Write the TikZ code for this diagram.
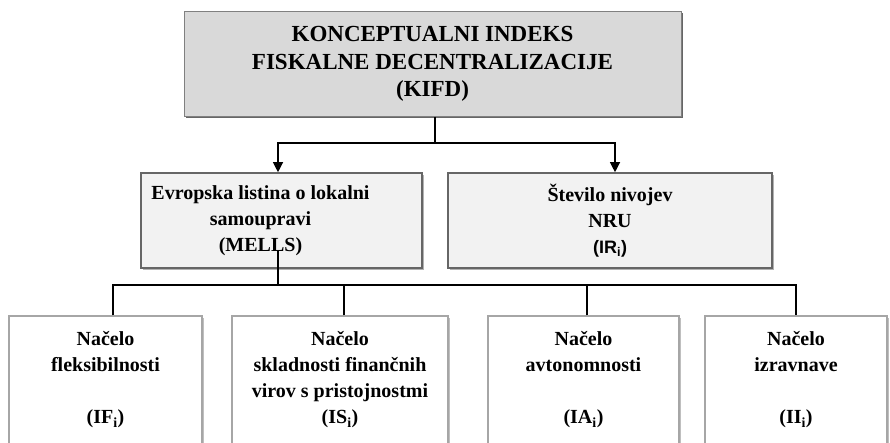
\documentclass[tikz,border=0pt]{standalone}
\usepackage{fontspec}
\setmainfont{Liberation Serif}
\newfontfamily\arialfont{Liberation Sans}
\usetikzlibrary{arrows.meta}
\usetikzlibrary{shadows}

\tikzset{
	glavni/.style={draw=black!50, fill=black!15, line width=1pt,
		drop shadow={shadow xshift=2pt,shadow yshift=-2pt,fill=black!60,opacity=1},
		align=center, font=\fontsize{23}{27.5}\selectfont\bfseries},
	srednji/.style={draw=black!60, fill=black!5, line width=1.6pt,
		drop shadow={shadow xshift=2pt,shadow yshift=-2pt,fill=black!30,opacity=1},
		minimum height=95pt, align=center, font=\fontsize{20}{26}\selectfont\bfseries},
	napis/.style={align=center, font=\fontsize{20}{26}\selectfont\bfseries},
	nacelo/.style={draw=black!35, fill=white, line width=1.4pt,
		drop shadow={shadow xshift=1.5pt,shadow yshift=-1.5pt,fill=black!25,opacity=1},
		minimum height=128pt, align=center, font=\fontsize{20}{26}\selectfont\bfseries},
	povezava/.style={line width=1.2pt, draw=black}
}

\begin{document}
\begin{tikzpicture}[x=1pt,y=-1pt,>/.tip={Triangle[width=10pt,length=10pt]}]
	\useasboundingbox (0,0) rectangle (890,443);
	\node (kifd) [glavni,minimum width=497pt,minimum height=105pt] at (432.5,64) {KONCEPTUALNI INDEKS\\FISKALNE DECENTRALIZACIJE\\(KIFD)};
	\node (mells) [srednji,minimum width=281pt] at (281.5,220.5) {};
	\node (mellsnapis) [napis] at ([xshift=-21pt]mells.center) {Evropska listina o lokalni\\samoupravi\\(MELLS)};
	\node (nru) [srednji,minimum width=324pt] at (610,220.5) {Število nivojev\\NRU\\{\arialfont\fontsize{18}{26}\selectfont(IR\textsubscript{i})}};
	\node (nf) [nacelo,minimum width=193pt] at (105.5,380) {Načelo\\fleksibilnosti\\[26pt](IF\textsubscript{i})};
	\node (nsk) [nacelo,minimum width=216pt] at (340,380) {Načelo\\skladnosti finančnih\\virov s pristojnostmi\\(IS\textsubscript{i})};
	\node (nav) [nacelo,minimum width=191pt] at (583.5,380) {Načelo\\avtonomnosti\\[26pt](IA\textsubscript{i})};
	\node (niz) [nacelo,minimum width=182pt] at (796,380) {Načelo\\izravnave\\[26pt](II\textsubscript{i})};
	% od KIFD do obeh sklopov
	\coordinate (razcep) at (435,143);
	\draw[povezava] (kifd.south -| razcep) -- (razcep);
	\draw[povezava,->] (razcep) -| ([xshift=-3.5pt]mells.north);
	\draw[povezava,->] (razcep) -| ([xshift=5pt]nru.north);
	% od MELLS do nacel
	\coordinate (vodilo) at (0,285);
	\draw[povezava] ([xshift=-3.5pt,yshift=18pt]mells.south) -- ([xshift=-3.5pt]mells.south |- vodilo);
	\draw[povezava] ([xshift=7.5pt]nf.north) |- (vodilo -| niz.north) -- (niz.north);
	\draw[povezava] ([xshift=4pt]nsk.north) -- ([xshift=4pt]nsk.north |- vodilo);
	\draw[povezava] ([xshift=3.5pt]nav.north) -- ([xshift=3.5pt]nav.north |- vodilo);
\end{tikzpicture}
\end{document}
